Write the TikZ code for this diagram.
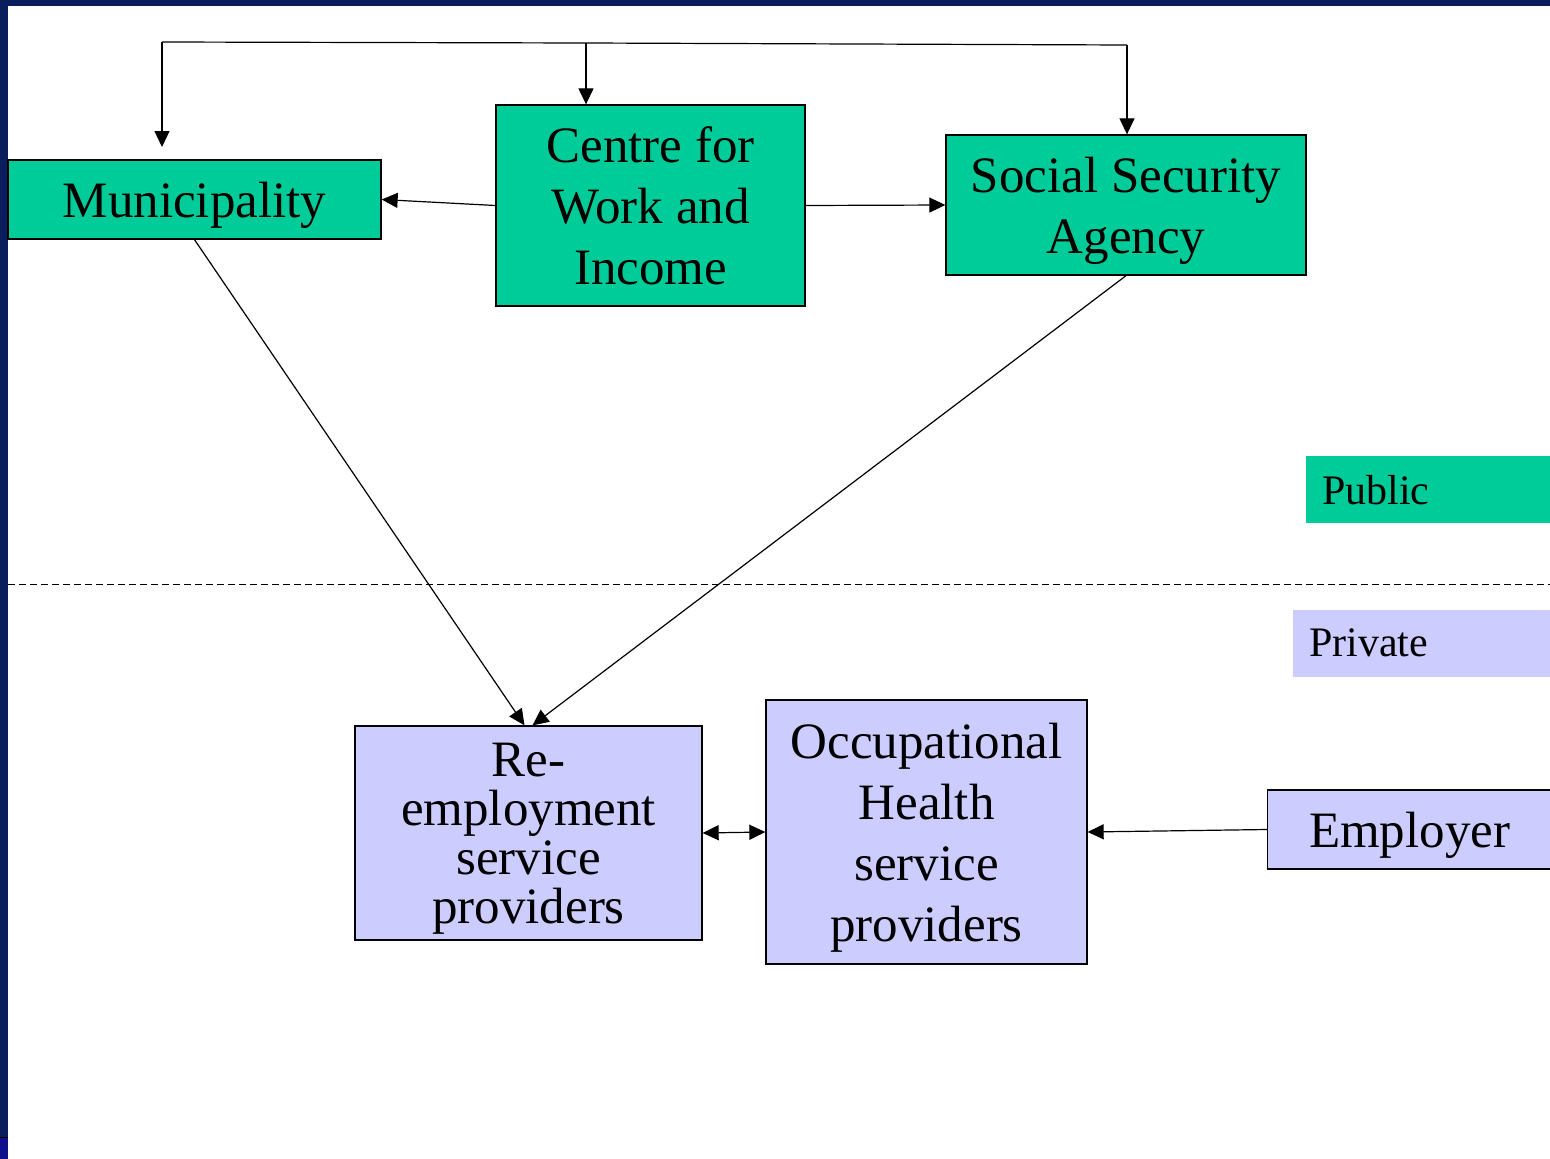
\documentclass[tikz,border=0pt]{standalone}
\usepackage{fontspec}
\setmainfont{Liberation Serif}
\usetikzlibrary{arrows.meta}
\definecolor{pubgreen}{RGB}{0,204,153}
\definecolor{privblue}{RGB}{204,204,255}
\definecolor{navy}{RGB}{10,30,94}
\definecolor{patchblue}{RGB}{16,16,140}

\begin{document}
\begin{tikzpicture}[x=1pt,y=-1pt,
pub/.style={draw,fill=pubgreen,line width=1.3pt,inner sep=0pt,align=center,
 text depth=0pt,font=\fontsize{51}{61}\selectfont},
priv/.style={pub,fill=privblue},
tag/.style={anchor=west,inner xsep=16pt,inner ysep=0pt,minimum height=67pt,
 text depth=0pt,font=\fontsize{42}{50}\selectfont},
arr/.style={line width=1.2pt,-{Triangle[length=16pt,width=15pt]}},
darr/.style={line width=1.2pt,{Triangle[length=16pt,width=15pt]}-{Triangle[length=16pt,width=15pt]}}]
\useasboundingbox (0,0) rectangle (1550,1159);
% frame
\fill[navy] (0,0) rectangle (1550,6);
\fill[navy] (0,0) rectangle (8,1159);
\fill[patchblue] (0,1138) rectangle (8,1159);
\draw[black,line width=1pt] (0,1137) -- (8,1137);

% public side
\node[pub,minimum width=373pt,minimum height=79pt] (muni) at (194.5,199.5) {Municipality};
\node[pub,minimum width=309pt,minimum height=201pt] (cwi) at (650.5,205.5) {Centre for\\Work and\\Income};
\node[pub,minimum width=360pt,minimum height=140pt] (ssa) at (1126,205) {Social Security\\Agency};

% private side
\node[priv,minimum width=347pt,minimum height=214pt,
 font=\fontsize{51}{49}\selectfont] (reemp) at (528.5,833) {Re-\\employment\\service\\providers};
\node[priv,minimum width=321pt,minimum height=264pt] (ohs) at (926.5,832) {Occupational\\Health\\service\\providers};
\node[priv,minimum width=300pt,minimum height=79pt,anchor=west] (emp) at (1267,829.5) {\hspace*{-16pt}Employer};

% legend
\node[tag,fill=pubgreen,text width=212pt] (public) at (1306,489.5) {Public};
\node[tag,fill=privblue,text width=225pt] (private) at (1293,643) {Private};

\draw[dashed,dash pattern=on 7pt off 4pt,line width=1pt] (8,584) -- (1550,584);

% top feed line
\coordinate (tl) at (162,42);
\coordinate (tm) at (586,43);
\coordinate (tr) at (1127,45);
\draw[line width=1.2pt] (tl) -- (tm) -- (tr);
\draw[arr] (tl) -- (162,147);
\draw[arr] (tm) -- (tm |- cwi.north);
\draw[arr] (tr) -- (tr |- ssa.north);

\draw[arr] (cwi.west) -- (muni.east);
\draw[arr] (cwi.east) -- (ssa.west);
\draw[arr] (muni.south) -- ([xshift=-4pt]reemp.north);
\draw[arr] (ssa.south) -- ([xshift=4pt]reemp.north);
\draw[darr] (reemp.east) -- (ohs.west);
\draw[arr] (emp.west) -- (ohs.east);
\end{tikzpicture}
\end{document}
